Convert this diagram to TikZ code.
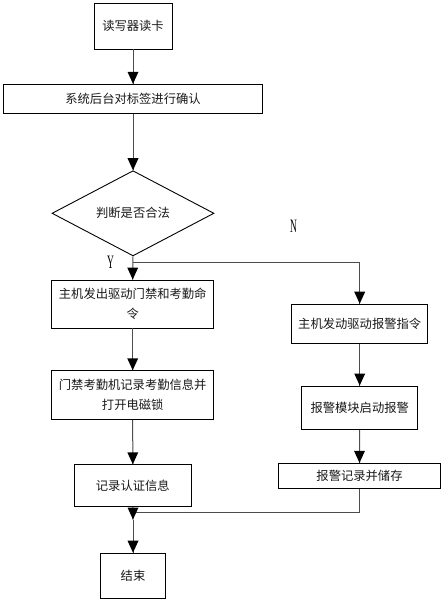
\documentclass[tikz,border=0pt]{standalone}
\usepackage{fontspec}
\setmainfont{Noto Sans CJK SC}
\newfontfamily\latinserif{Liberation Serif}
\usetikzlibrary{shapes.geometric}
\newcommand{\downtip}[1]{\fill[black] (#1) -- ++(-5.5,12) -- ++(11,0) -- cycle;}
\begin{document}
\begin{tikzpicture}[x=1pt,y=1pt,
 box/.style={draw=black,line width=0.9pt,rectangle,inner sep=0pt,align=center,font=\fontsize{12.3}{20}\selectfont,text=black!90},
 dec/.style={draw=black,line width=0.9pt,diamond,inner sep=0pt,font=\fontsize{12.3}{20}\selectfont,text=black!90},
 conn/.style={draw=black!70,line width=1pt},
 yn/.style={font=\latinserif\fontsize{19}{19}\selectfont,inner sep=0pt}]
\useasboundingbox (0,0) rectangle (445,-604);
\node[box,minimum width=78pt,minimum height=46pt] (b1) at (133,-26) {读写器读卡};
\node[box,minimum width=258.6pt,minimum height=29pt] (b2) at (133,-98.8) {系统后台对标签进行确认};
\node[dec,minimum width=162pt,minimum height=58pt] (d) at (133,-213.3) {判断是否合法};
\node[box,minimum width=162pt,minimum height=48pt] (b3) at (132.7,-304) {主机发出驱动门禁和考勤命\\令};
\node[box,minimum width=162pt,minimum height=48.6pt] (b4) at (132.7,-395) {门禁考勤机记录考勤信息并\\打开电磁锁};
\node[box,minimum width=117pt,minimum height=42pt] (b5) at (132.8,-485.7) {记录认证信息};
\node[box,minimum width=64.6pt,minimum height=45.7pt] (b7) at (133,-576) {结束};
\node[box,minimum width=136pt,minimum height=39.7pt] (r1) at (359.7,-324) {主机发动驱动报警指令};
\node[box,minimum width=116pt,minimum height=43.7pt] (r2) at (359.7,-407.8) {报警模块启动报警};
\node[box,minimum width=162.4pt,minimum height=25pt] (r3) at (359.5,-475.8) {报警记录并储存};
\node[yn] (ylab) at (110.5,-262) {\scalebox{0.5}[1]{Y}};
\node[yn] (nlab) at (293.5,-226) {\scalebox{0.5}[1]{N}};
\coordinate (br) at (133,-262.3);
\coordinate (j) at (133,-512.3);
\coordinate (m) at (133,-519.5);
\draw[conn] (b1.south) -- (b2.north);
\draw[conn] (b2.south) -- (d.north);
\draw[conn] (d.south) -- (b3.north);
\draw[conn] (br) -| (r1.north);
\draw[conn] (b3.south) -- (b4.north);
\draw[conn] (b4.south) -- (b5.north);
\draw[conn] (b5.south) -- (m);
\draw[conn] (m) -- (b7.north);
\draw[conn] (r1.south) -- (r2.north);
\draw[conn] (r2.south) -- (r3.north);
\draw[conn] (r3.south) |- (j);
\downtip{b2.north}
\downtip{d.north}
\downtip{b3.north}
\downtip{r1.north}
\downtip{b4.north}
\downtip{b5.north}
\downtip{m}
\downtip{b7.north}
\downtip{r2.north}
\downtip{r3.north}
\end{tikzpicture}
\end{document}
